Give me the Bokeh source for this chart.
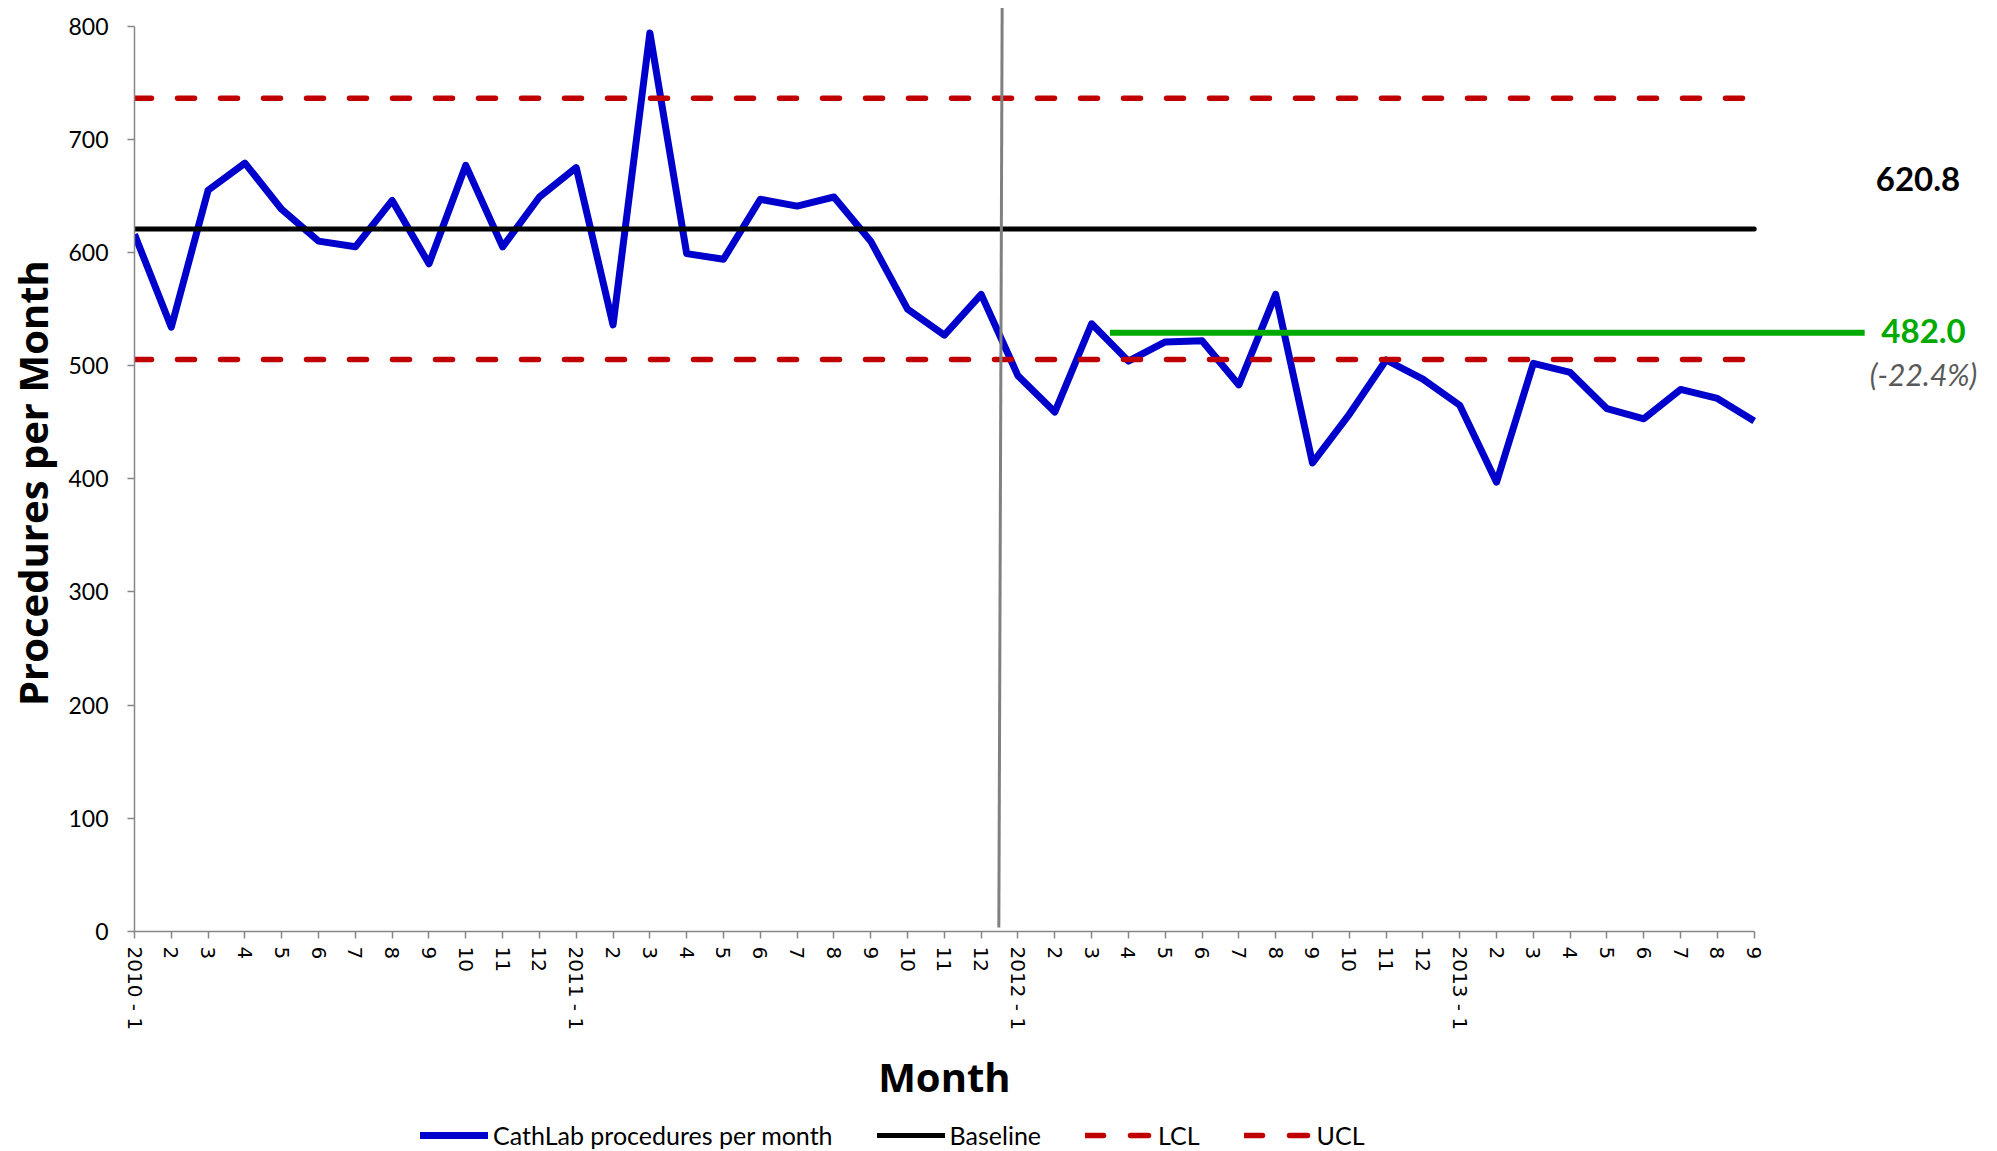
from bokeh.plotting import figure
from bokeh.layouts import column
from bokeh.models import Range1d, FixedTicker, Legend, LegendItem
from bokeh.core.properties import value
from bokeh.embed import file_html
from bokeh.resources import INLINE

# ---- data ----
years = ["2010", "2011", "2012", "2013"]
months_per_year = [12, 12, 12, 9]
procedures = [616, 534, 655, 679, 638, 610, 605, 646, 590, 677, 605, 649,
              675, 536, 794, 599, 594, 647, 641, 649, 610, 550, 527, 563,
              491, 459, 537, 504, 521, 522, 483, 563, 414, 457, 505, 488,
              465, 397, 502, 494, 462, 453, 479, 471, 451]
baseline_value = 620.8
lcl_value = 505.4
ucl_value = 736.2
new_mean_label = "482.0"
new_mean_drawn = 529
change_label = "(-22.4%)"
y_ticks = [0, 100, 200, 300, 400, 500, 600, 700, 800]
series_names = ["CathLab procedures per month", "Baseline", "LCL", "UCL"]

month_labels = []
for yr, n in zip(years, months_per_year):
    for m in range(1, n + 1):
        month_labels.append(f"{yr} - 1" if m == 1 else str(m))
xs = list(range(len(procedures)))
last = xs[-1]

BLUE, RED, GREEN, GRAY_AX = "#0000CC", "#C00000", "#00AA00", "#868686"
X_END = 50.5

p = figure(width=1997, height=1040, output_backend="svg", toolbar_location=None,
           x_range=Range1d(0, X_END), y_range=Range1d(0, 820),
           min_border_left=134, min_border_right=4, min_border_top=3,
           min_border_bottom=109, title=None)
p.outline_line_color = None
p.xgrid.visible = False
p.ygrid.visible = False

# x axis
ax = p.xaxis[0]
ax.ticker = FixedTicker(ticks=xs)
ax.major_label_overrides = {i: lab for i, lab in enumerate(month_labels)}
ax.bounds = (0, last)
ax.major_label_orientation = "vertical"
ax.major_label_text_font = "DejaVu Sans"
ax.major_label_text_font_size = "20px"
ax.major_label_text_color = "black"
ax.major_label_standoff = 8
ax.minor_tick_line_color = None
ax.major_tick_out = 7
ax.major_tick_in = 0
ax.axis_line_color = GRAY_AX
ax.axis_line_width = 1.5
ax.major_tick_line_color = GRAY_AX
ax.major_tick_line_width = 1.5

# y axis
ay = p.yaxis[0]
ay.ticker = FixedTicker(ticks=y_ticks)
ay.bounds = (0, 800)
ay.major_label_text_font = "Lato"
ay.major_label_text_font_size = "23px"
ay.major_label_text_color = "black"
ay.major_label_standoff = 19
ay.minor_tick_line_color = None
ay.major_tick_out = 7
ay.major_tick_in = 0
ay.axis_line_color = GRAY_AX
ay.axis_line_width = 1.5
ay.major_tick_line_color = GRAY_AX
ay.major_tick_line_width = 1.5
# trailing no-break spaces nudge the visible title down to the centre of 0..800
ay.axis_label = "Procedures per Month" + "\u00a0" * 3
ay.axis_label_text_font = "Open Sans"
ay.axis_label_text_font_style = "bold"
ay.axis_label_text_font_size = "40px"
ay.axis_label_text_color = "black"
ay.axis_label_standoff = 5

# series
p.line(xs, procedures, line_color=BLUE, line_width=7, line_join="round")
p.line([0, last], [baseline_value, baseline_value], line_color="black",
       line_width=5, line_cap="round")
p.line([0, last], [lcl_value, lcl_value], line_color=RED, line_width=5.5,
       line_dash="17 26", line_cap="round")
p.line([0, last], [ucl_value, ucl_value], line_color=RED, line_width=5.5,
       line_dash="17 26", line_cap="round")

# annotations
p.line([26.5, 47.0], [new_mean_drawn, new_mean_drawn], line_color=GREEN, line_width=6)
p.line([23.57, 23.48], [816, 3.5], line_color="#808080", line_width=3)

p.text(x=[48.45], y=[665], text=[f"{baseline_value:.1f}"], text_font=value("Lato"),
       text_font_style="bold", text_font_size="33px", text_color="black",
       text_align="center", text_baseline="middle")
p.text(x=[48.6], y=[531], text=[new_mean_label], text_font=value("Lato"),
       text_font_style="bold", text_font_size="33px", text_color=GREEN,
       text_align="center", text_baseline="middle")
p.text(x=[48.6], y=[493], text=[change_label], text_font=value("Lato"),
       text_font_style="italic", text_font_size="30px", text_color="#595959",
       text_align="center", text_baseline="middle")

# ---- lower strip: x-axis title + legend (same horizontal frame as the chart) ----
low = figure(width=1997, height=111, output_backend="svg", toolbar_location=None,
             x_range=Range1d(0, X_END), y_range=Range1d(0, 111),
             x_axis_type=None, y_axis_type=None, title=None,
             min_border_left=134, min_border_right=4, min_border_top=0,
             min_border_bottom=0)
low.outline_line_color = None
low.xgrid.visible = False
low.ygrid.visible = False

low.text(x=[last / 2], y=[75], text=["Month"], text_font=value("Open Sans"),
         text_font_style="bold", text_font_size="40px", text_color="black",
         text_align="center", text_baseline="middle")

# off-screen stand-ins so the legend can draw its samples
off_x, off_y = [-5, -4], [-50, -50]
lr_main = low.line(off_x, off_y, line_color=BLUE, line_width=7, line_cap="round")
lr_base = low.line(off_x, off_y, line_color="black", line_width=5, line_cap="round")
lr_lcl = low.line(off_x, off_y, line_color=RED, line_width=5.5, line_dash="18 27",
                  line_cap="round")
lr_ucl = low.line(off_x, off_y, line_color=RED, line_width=5.5, line_dash="18 27",
                  line_cap="round")

legend = Legend(items=[
    LegendItem(label=series_names[0], renderers=[lr_main]),
    LegendItem(label=series_names[1], renderers=[lr_base]),
    LegendItem(label=series_names[2], renderers=[lr_lcl]),
    LegendItem(label=series_names[3], renderers=[lr_ucl]),
], orientation="horizontal", location=(286, 1))
legend.label_text_font = "Lato"
legend.label_text_font_size = "25px"
legend.label_text_color = "black"
legend.glyph_width = 68
legend.glyph_height = 20
legend.label_standoff = 5
legend.spacing = 44
legend.padding = 0
legend.margin = 0
legend.border_line_color = None
legend.background_fill_alpha = 0
low.add_layout(legend, "center")

layout = column(p, low, spacing=0)
open("out.html", "w").write(file_html(layout, INLINE))
